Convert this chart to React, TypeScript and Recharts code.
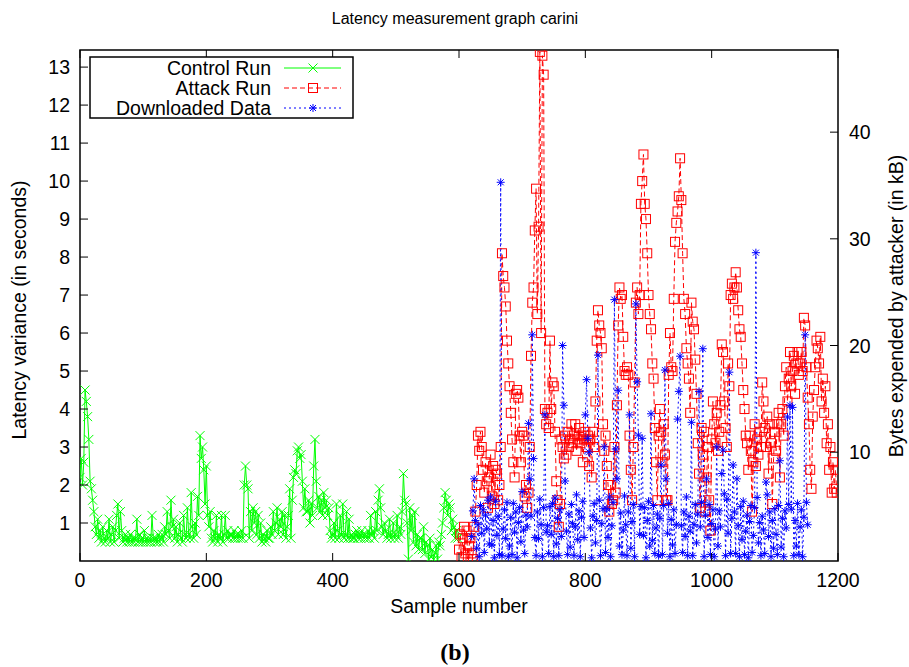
import { ComposedChart, Line, XAxis, YAxis, ReferenceArea } from "recharts";

const FONT = '"Liberation Sans", Arial, Helvetica, sans-serif';
const PLOT_TOP = 50;
const PLOT_BOTTOM = 561;
const PLOT_LEFT = 80;
const PLOT_RIGHT = 838;

const GREEN = "#00ff00";
const RED = "#ff0000";
const BLUE = "#0000ff";

// sample numbers on x, latency (s) for the runs, kB for downloaded data
const xTicks = [0, 200, 400, 600, 800, 1000, 1200];
const latencyTicks = [1, 2, 3, 4, 5, 6, 7, 8, 9, 10, 11, 12, 13];
const bytesTicks = [10, 20, 30, 40];

const controlStart = 0;
const controlStep = 2;
const controlRun = [
  2.2, 2.7, 2.0, 2.6, 4.5, 4.2, 3.8, 3.2, 2.1, 1.9, 1.6, 1.3, 0.9, 0.7, 1.1,
  0.6, 0.8, 0.5, 0.9, 0.6, 0.5, 0.8, 0.6, 1.1, 0.5, 0.7, 0.9, 0.5, 0.8, 1.2,
  1.5, 0.6, 1.3, 0.8, 0.5, 0.6, 0.7, 0.5, 0.6, 0.5, 0.7, 0.5, 0.6, 0.5, 0.6,
  1.1, 0.5, 0.7, 0.5, 0.6, 0.5, 0.8, 0.5, 0.6, 0.5, 0.6, 0.5, 1.2, 0.6, 0.5,
  0.6, 0.5, 0.7, 0.5, 0.6, 0.7, 0.5, 0.9, 0.7, 1.3, 0.8, 0.6, 1.6, 0.9, 1.1,
  0.6, 0.9, 0.5, 0.7, 1.0, 0.6, 0.5, 1.2, 0.7, 0.6, 1.4, 0.7, 0.6, 1.8, 0.9,
  0.6, 1.0, 0.7, 1.7, 1.2, 3.3, 2.7, 3.0, 2.4, 1.5, 2.5, 1.2, 0.9, 1.3, 0.6,
  0.5, 0.8, 0.6, 1.2, 0.5, 0.7, 0.6, 1.2, 0.5, 0.7, 1.2, 0.6, 0.8, 0.6, 0.7,
  0.7, 0.6, 0.8, 0.6, 0.7, 0.6, 0.7, 0.6, 0.8, 0.6, 2.0, 2.5, 2.0, 1.9, 0.6,
  1.3, 0.8, 1.4, 1.0, 1.3, 0.7, 1.2, 0.6, 1.0, 0.5, 0.7, 0.6, 0.5, 0.8, 0.6,
  0.6, 0.9, 0.7, 1.3, 0.8, 1.0, 1.4, 0.7, 1.1, 0.9, 1.3, 0.7, 1.2, 0.6, 0.9,
  1.2, 1.9, 0.6, 1.6, 2.2, 2.4, 2.3, 2.9, 3.0, 2.7, 2.8, 2.1, 1.4, 1.9, 1.3,
  1.3, 1.6, 1.0, 1.5, 1.2, 2.5, 3.2, 2.1, 1.4, 1.7, 1.3, 1.6, 1.2, 1.8, 1.4,
  1.6, 1.2, 1.4, 0.8, 0.6, 0.7, 1.0, 0.6, 1.5, 0.8, 0.6, 1.2, 0.7, 1.5, 0.6,
  0.7, 1.3, 0.6, 1.1, 0.6, 0.7, 0.6, 0.6, 0.7, 0.8, 0.6, 0.7, 0.6, 0.8, 0.7,
  0.6, 0.7, 0.6, 0.8, 0.6, 1.2, 0.7, 0.8, 0.6, 1.3, 0.8, 1.6, 1.9, 1.4, 0.9,
  0.7, 1.0, 0.8, 0.6, 0.7, 1.1, 0.6, 0.7, 1.0, 0.6, 0.7, 1.2, 0.6, 0.9, 0.7,
  1.3, 2.3, 1.6, 1.5, 1.0, 0.05, 1.4, 0.8, 1.2, 0.5, 1.3, 0.4, 0.7, 0.3, 0.6,
  0.6, 0.3, 0.9, 0.2, 0.5, 0.4, 0.05, 0.6, 0.1, 0.3, 0.05, 0.2, 0.4, 0.05, 0.5,
  0.4, 0.7, 1.0, 1.4, 1.8, 1.6, 1.2, 1.5, 1.4, 0.8, 1.1, 0.9, 0.6, 0.8, 0.6,
];

const attackStart = 600;
const attackStep = 2;
const attackRun = [
  0.3, 0.7, 0.1, 0.6, 0.9, 0.2, 0.8, 0.05, 0.4, 0.6, 0.2, 0.05, 0.9, 1.3, 2.0,
  3.3, 2.9, 3.4, 3.0, 2.4, 1.8, 2.6, 2.1, 1.4, 2.2, 2.8, 1.7, 2.5, 1.5, 2.4,
  2.3, 1.6, 2.0, 3.0, 8.1, 7.5, 7.2, 6.7, 5.8, 5.2, 4.6, 3.9, 3.2, 2.6, 2.2,
  4.4, 4.5, 4.3, 3.3, 2.6, 3.4, 3.3, 1.7, 2.0, 1.4, 1.8, 3.0, 5.4, 6.8, 7.2,
  8.7, 9.8, 6.5, 8.8, 13.4, 6.0, 13.3, 12.8, 4.0, 3.6, 3.9, 3.5, 5.8, 4.0, 4.7,
  4.6, 3.4, 2.1, 1.6, 0.9, 1.5, 3.2, 3.0, 2.7, 3.3, 2.8, 3.4, 3.0, 3.2, 3.6,
  3.1, 3.3, 3.6, 2.9, 3.2, 3.5, 3.1, 3.3, 2.6, 3.2, 3.4, 3.0, 3.3, 2.5, 3.2,
  2.2, 3.4, 3.0, 4.2, 5.8, 6.6, 6.2, 6.0, 5.6, 3.6, 2.9, 3.3, 2.5, 2.0, 1.3,
  2.0, 1.5, 1.6, 3.0, 1.8, 4.1, 6.2, 7.2, 6.9, 7.0, 5.9, 5.0, 4.9, 5.1, 4.9,
  3.3, 2.4, 1.6, 3.0, 4.7, 6.8, 7.2, 6.5, 7.0, 9.4, 10.0, 10.7, 9.4, 9.0, 8.1,
  7.0, 6.5, 6.1, 5.2, 4.8, 3.5, 2.6, 1.6, 3.3, 4.0, 3.4, 2.6, 3.6, 2.8, 1.6,
  1.6, 4.9, 6.0, 5.1, 5.0, 6.9, 8.4, 8.9, 9.2, 9.6, 10.6, 9.5, 8.1, 6.9, 6.5,
  5.6, 5.2, 4.8, 3.9, 6.8, 6.3, 6.1, 5.3, 4.4, 3.1, 2.3, 1.4, 3.5, 2.8, 3.4,
  1.3, 2.2, 3.0, 1.6, 0.8, 3.2, 4.2, 3.6, 3.1, 3.9, 2.9, 3.4, 4.1, 5.7, 5.5,
  4.2, 3.5, 3.0, 5.2, 4.6, 7.0, 7.3, 6.9, 7.2, 7.6, 7.2, 6.6, 6.1, 5.9, 5.2,
  4.5, 4.0, 3.3, 3.1, 2.4, 3.3, 2.9, 1.3, 2.6, 3.6, 2.5, 3.2, 2.8, 3.4, 3.0,
  4.7, 4.2, 3.5, 3.0, 3.8, 2.3, 3.6, 3.1, 1.5, 2.7, 3.4, 2.9, 3.6, 3.9, 2.2,
  3.6, 4.0, 3.3, 4.6, 5.1, 4.2, 4.8, 5.5, 4.6, 5.0, 5.4, 4.4, 5.2, 5.5, 4.9,
  5.2, 5.5, 5.0, 6.4, 6.2, 5.1, 4.3, 3.6, 2.4, 1.9, 3.8, 4.5, 5.1, 5.8, 5.6,
  5.2, 5.9, 4.2, 4.8, 3.9, 4.6, 3.1, 3.6, 2.4, 3.0, 1.8, 2.6, 1.9, 2.4, 1.8,
];

const downloadStart = 620;
const downloadStep = 2;
const downloadedData = [
  2.1, 4.5, 7.5, 3.6, 1.0, 3.2, 0.2, 5.0, 2.4, 4.6, 0.6, 4.1, 2.8, 5.5, 1.4,
  5.8, 1.3, 3.6, 0.1, 5.4, 2.2, 4.0, 0.4, 35.3, 0.3, 2.8, 4.6, 1.9, 5.3, 0.2,
  1.2, 3.9, 0.4, 5.2, 2.5, 4.4, 0.1, 3.4, 4.8, 1.6, 6.3, 2.7, 0.5, 4.1, 3.0,
  12.7, 7.5, 4.0, 21.0, 9.4, 2.0, 0.3, 4.4, 1.9, 5.6, 3.2, 0.2, 4.8, 13.5, 2.5,
  3.1, 0.5, 4.9, 2.3, 5.2, 0.2, 5.7, 1.4, 3.8, 0.3, 4.6, 2.1, 20.0, 14.4, 7.3,
  2.6, 0.4, 4.2, 1.1, 5.1, 3.3, 0.3, 3.0, 6.0, 1.8, 4.5, 0.2, 3.9, 5.4, 2.0,
  13.5, 16.8, 11.3, 10.0, 2.9, 0.1, 4.0, 5.2, 1.5, 3.6, 19.1, 5.5, 0.3, 3.3, 4.7,
  10.5, 0.6, 4.7, 2.0, 5.8, 0.2, 3.1, 5.3, 24.3, 10.3, 7.5, 15.8, 1.2, 4.3, 0.4,
  2.7, 5.9, 3.2, 0.3, 4.4, 13.5, 1.0, 3.5, 5.1, 0.2, 23.9, 16.6, 11.6, 2.3, 4.9,
  11.3, 2.2, 4.8, 0.1, 3.6, 5.4, 1.2, 13.6, 1.7, 5.0, 0.5, 2.9, 4.2, 0.3, 3.8,
  8.8, 0.4, 5.0, 17.7, 7.5, 2.4, 5.2, 0.2, 3.7, 1.3, 4.6, 0.5, 3.2, 13.1, 15.7,
  19.0, 3.1, 0.6, 4.4, 2.1, 5.8, 0.3, 4.0, 2.6, 12.8, 0.3, 3.2, 5.1, 1.5, 4.2,
  15.7, 3.0, 5.3, 19.7, 0.2, 4.1, 7.5, 2.0, 5.1, 0.4, 3.3, 4.6, 0.2, 2.8, 10.5,
  1.2, 4.5, 3.0, 8.0, 10.2, 6.1, 0.3, 5.6, 2.4, 17.5, 0.5, 3.8, 8.8, 4.4, 0.5,
  7.5, 3.1, 0.2, 4.9, 1.8, 5.4, 0.4, 2.6, 4.1, 0.1, 3.5, 5.0, 0.6, 2.2, 4.8,
  28.7, 5.75, 1.5, 3.4, 0.3, 4.0, 2.7, 0.5, 7.2, 6.0, 2.1, 4.4, 0.2, 3.6, 1.0,
  4.7, 2.3, 0.4, 5.0, 9.2, 1.1, 3.8, 0.2, 4.5, 2.9, 13.3, 5.1, 14.4, 4.65, 14.2,
  0.3, 3.6, 1.2, 5.2, 0.4, 3.0, 4.6, 0.2, 3.9, 21.0, 5.3, 3.2,
];

function toPoints(start: number, step: number, values: number[]) {
  return values.map((y, i) => ({ x: start + i * step, y }));
}

const controlPoints = toPoints(controlStart, controlStep, controlRun);
const attackPoints = toPoints(attackStart, attackStep, attackRun);
const downloadPoints = toPoints(downloadStart, downloadStep, downloadedData);

function crossPath(cx: number, cy: number, r = 4.5) {
  return `M${cx - r},${cy - r}L${cx + r},${cy + r}M${cx - r},${cy + r}L${cx + r},${cy - r}`;
}

function starPath(cx: number, cy: number, r = 4) {
  const d = r * 0.75;
  return (
    `M${cx - r},${cy}L${cx + r},${cy}M${cx},${cy - r}L${cx},${cy + r}` +
    `M${cx - d},${cy - d}L${cx + d},${cy + d}M${cx - d},${cy + d}L${cx + d},${cy - d}`
  );
}

function CrossDot(props: any) {
  const { cx, cy, index } = props;
  if (cx == null || cy == null) return <g key={`c-${index}`} />;
  return <path key={`c-${index}`} d={crossPath(cx, cy)} stroke={GREEN} strokeWidth={1} fill="none" />;
}

function SquareDot(props: any) {
  const { cx, cy, index } = props;
  if (cx == null || cy == null) return <g key={`a-${index}`} />;
  return (
    <rect key={`a-${index}`} x={cx - 4.5} y={cy - 4.5} width={9} height={9} stroke={RED} strokeWidth={1} fill="none" />
  );
}

function StarDot(props: any) {
  const { cx, cy, index } = props;
  if (cx == null || cy == null) return <g key={`d-${index}`} />;
  return <path key={`d-${index}`} d={starPath(cx, cy)} stroke={BLUE} strokeWidth={1} fill="none" />;
}

const TICK_FONT = 19.5;

function XTick(props: any) {
  const { x, payload } = props;
  return (
    <g>
      <line x1={x} x2={x} y1={PLOT_BOTTOM} y2={PLOT_BOTTOM - 8} stroke="#000" />
      <line x1={x} x2={x} y1={PLOT_TOP} y2={PLOT_TOP + 8} stroke="#000" />
      <text x={x} y={PLOT_BOTTOM + 26} textAnchor="middle" fontFamily={FONT} fontSize={TICK_FONT} fill="#000">
        {payload.value}
      </text>
    </g>
  );
}

function LeftTick(props: any) {
  const { y, payload } = props;
  return (
    <g>
      <line x1={PLOT_LEFT} x2={PLOT_LEFT + 8} y1={y} y2={y} stroke="#000" />
      <text x={PLOT_LEFT - 10} y={y + 7} textAnchor="end" fontFamily={FONT} fontSize={TICK_FONT} fill="#000">
        {payload.value}
      </text>
    </g>
  );
}

function RightTick(props: any) {
  const { y, payload } = props;
  return (
    <g>
      <line x1={PLOT_RIGHT} x2={PLOT_RIGHT - 8} y1={y} y2={y} stroke="#000" />
      <text x={PLOT_RIGHT + 11} y={y + 7} textAnchor="start" fontFamily={FONT} fontSize={TICK_FONT} fill="#000">
        {payload.value}
      </text>
    </g>
  );
}

const legendRows = [
  { name: "Control Run", color: GREEN, dash: undefined, marker: "cross" },
  { name: "Attack Run", color: RED, dash: "5 3", marker: "square" },
  { name: "Downloaded Data", color: BLUE, dash: "2 3", marker: "star" },
];

function ChartLegend() {
  return (
    <svg width={265} height={64} style={{ position: "absolute", left: 89, top: 56 }}>
      <rect x={1} y={1} width={263} height={61} fill="#fff" stroke="#000" strokeWidth={1.5} />
      {legendRows.map((row, i) => {
        const cy = 12 + i * 20;
        return (
          <g key={row.name}>
            <text x={182} y={cy + 7} textAnchor="end" fontFamily={FONT} fontSize={TICK_FONT} fill="#000">
              {row.name}
            </text>
            <line x1={195} x2={252} y1={cy} y2={cy} stroke={row.color} strokeDasharray={row.dash} />
            {row.marker === "cross" && <path d={crossPath(224, cy)} stroke={row.color} fill="none" />}
            {row.marker === "square" && (
              <rect x={219.5} y={cy - 4.5} width={9} height={9} stroke={row.color} fill="none" />
            )}
            {row.marker === "star" && <path d={starPath(224, cy)} stroke={row.color} fill="none" />}
          </g>
        );
      })}
    </svg>
  );
}

const textStyle: React.CSSProperties = {
  position: "absolute",
  fontFamily: FONT,
  color: "#000",
  whiteSpace: "nowrap",
  lineHeight: 1,
  transform: "translate(-50%, -50%)",
};

export default function App() {
  return (
    <div style={{ position: "absolute", left: 0, top: 0, width: 909, height: 667, background: "#fff" }}>
      <ComposedChart width={909} height={667} margin={{ top: PLOT_TOP, right: 21, bottom: 76, left: 20 }}>
        <XAxis
          type="number"
          dataKey="x"
          domain={[0, 1200]}
          ticks={xTicks}
          height={30}
          axisLine={false}
          tickLine={false}
          tick={XTick}
          allowDataOverflow
        />
        <YAxis
          yAxisId="left"
          type="number"
          domain={[0, 13.45]}
          ticks={latencyTicks}
          width={60}
          axisLine={false}
          tickLine={false}
          tick={LeftTick}
          allowDataOverflow
        />
        <YAxis
          yAxisId="right"
          orientation="right"
          type="number"
          domain={[-0.2, 47.7]}
          ticks={bytesTicks}
          width={50}
          axisLine={false}
          tickLine={false}
          tick={RightTick}
          allowDataOverflow
        />
        <Line
          yAxisId="left"
          data={controlPoints}
          dataKey="y"
          type="linear"
          stroke={GREEN}
          strokeWidth={1}
          dot={CrossDot}
          activeDot={false}
          isAnimationActive={false}
        />
        <Line
          yAxisId="left"
          data={attackPoints}
          dataKey="y"
          type="linear"
          stroke={RED}
          strokeWidth={1}
          strokeDasharray="5 3"
          dot={SquareDot}
          activeDot={false}
          isAnimationActive={false}
        />
        <Line
          yAxisId="right"
          data={downloadPoints}
          dataKey="y"
          type="linear"
          stroke={BLUE}
          strokeWidth={1}
          strokeDasharray="2 3"
          dot={StarDot}
          activeDot={false}
          isAnimationActive={false}
        />
        <ReferenceArea
          yAxisId="left"
          x1={0}
          x2={1200}
          y1={0}
          y2={13.45}
          fill="none"
          stroke="#000"
          strokeWidth={1.5}
          ifOverflow="visible"
        />
      </ComposedChart>
      <ChartLegend />
      <div style={{ ...textStyle, left: 455, top: 19, fontSize: 16 }}>Latency measurement graph carini</div>
      <div style={{ ...textStyle, left: 459, top: 607, fontSize: TICK_FONT }}>Sample number</div>
      <div style={{ ...textStyle, left: 20, top: 310, fontSize: TICK_FONT, transform: "translate(-50%, -50%) rotate(-90deg)" }}>
        Latency variance (in seconds)
      </div>
      <div style={{ ...textStyle, left: 897, top: 306, fontSize: TICK_FONT, transform: "translate(-50%, -50%) rotate(-90deg)" }}>
        Bytes expended by attacker (in kB)
      </div>
      <div
        style={{
          ...textStyle,
          left: 455,
          top: 652,
          fontSize: 24,
          fontWeight: "bold",
          fontFamily: '"Liberation Serif", "DejaVu Serif", serif',
        }}
      >
        (b)
      </div>
    </div>
  );
}
